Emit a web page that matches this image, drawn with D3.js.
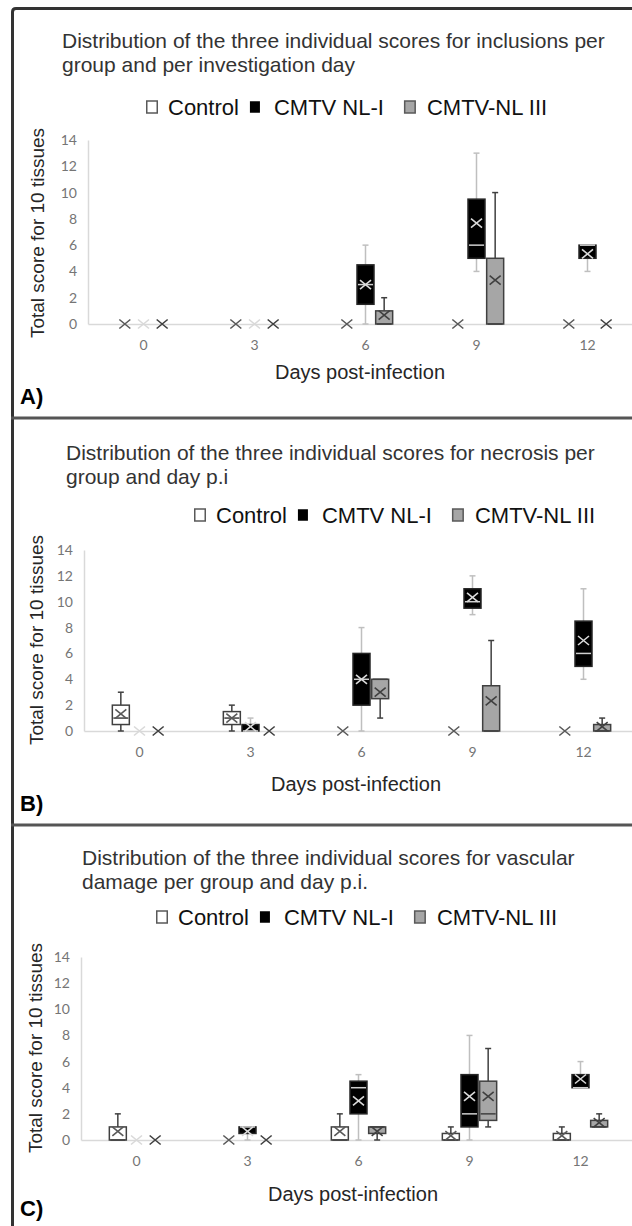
<!DOCTYPE html>
<html>
<head>
<meta charset="utf-8">
<script src="https://cdn.jsdelivr.net/npm/d3@7"></script>
<style>
  body { margin: 0; background: #fff; }
  svg { display: block; }
</style>
</head>
<body>
<div id="chart"></div>
<script>
const days = [0, 3, 6, 9, 12];
const groups = ['Control', 'CMTV NL-I', 'CMTV-NL III'];
const yTicks = [0, 2, 4, 6, 8, 10, 12, 14];

// three individual scores per group, one triple per day (0, 3, 6, 9, 12)
const inclusionControl = [[0,0,0], [0,0,0], [0,0,0], [0,0,0], [0,0,0]];
const inclusionNL1     = [[0,0,0], [0,0,0], [0,3,6], [4,6,13], [4,6,6]];
const inclusionNL3     = [[0,0,0], [0,0,0], [0,0,2], [0,0,10], [0,0,0]];

const necrosisControl  = [[0,1,3], [0,1,2], [0,0,0], [0,0,0], [0,0,0]];
const necrosisNL1      = [[0,0,0], [0,0,1], [0,4,8], [9,10,12], [4,6,11]];
const necrosisNL3      = [[0,0,0], [0,0,0], [1,4,4], [0,0,7], [0,0,1]];

const vascularControl  = [[0,0,2], [0,0,0], [0,0,2], [0,0,1], [0,0,1]];
const vascularNL1      = [[0,0,0], [0,1,1], [0,4,5], [0,2,8], [4,4,6]];
const vascularNL3      = [[0,0,0], [0,0,0], [0,1,1], [1,2,7], [1,1,2]];

const titles = [
  ['Distribution of the three individual scores for inclusions per', 'group and per investigation day'],
  ['Distribution of the three individual scores for necrosis per', 'group and day p.i'],
  ['Distribution of the three individual scores for vascular', 'damage per group and day p.i.']
];
const panelLabels = ['A)', 'B)', 'C)'];
const yTitle = 'Total score for 10 tissues';
const xTitle = 'Days post-infection';

const width = 632;
const height = 1226;

const style = {
  'Control':     { fill: '#ffffff', stroke: '#404040', whisker: '#404040', median: '#404040', mean: '#595959' },
  'CMTV NL-I':   { fill: '#000000', stroke: '#262626', whisker: '#bfbfbf', median: '#cfcfcf', mean: '#d9d9d9' },
  'CMTV-NL III': { fill: '#a6a6a6', stroke: '#404040', whisker: '#404040', median: '#404040', mean: '#404040' }
};

// layout of the three stacked panels
const panels = [
  { scores: [inclusionControl, inclusionNL1, inclusionNL3], titleX: 62, titleY: 48, legendX: 146, legendY: 107,
    left: 88, top: 140, bottom: 324, yTitleX: 44, yTitleY: 233, xTitleY: 379, labelY: 404 },
  { scores: [necrosisControl, necrosisNL1, necrosisNL3], titleX: 66, titleY: 460, legendX: 194, legendY: 515,
    left: 84, top: 550, bottom: 731, yTitleX: 43, yTitleY: 640, xTitleY: 791, labelY: 811 },
  { scores: [vascularControl, vascularNL1, vascularNL3], titleX: 82, titleY: 865, legendX: 156, legendY: 917,
    left: 81, top: 957, bottom: 1140, yTitleX: 42, yTitleY: 1048, xTitleY: 1201, labelY: 1216 }
];

const svg = d3.select('#chart')
  .append('svg')
  .attr('width', width)
  .attr('height', height)
  .style('font-family', '"Liberation Sans", Arial, sans-serif');

svg.append('rect').attr('width', width).attr('height', height).attr('fill', '#fff');

const stats = values => {
  const s = values.slice().sort(d3.ascending);
  return {
    min: s[0], max: s[s.length - 1],
    q1: d3.quantile(s, 0.25), median: d3.quantile(s, 0.5), q3: d3.quantile(s, 0.75),
    mean: d3.mean(s)
  };
};

const drawPanel = (p, i) => {
  const g = svg.append('g');

  // title
  g.append('text')
    .attr('fill', '#333')
    .style('font-size', '21px')
    .selectAll('tspan')
    .data(titles[i])
    .join('tspan')
    .attr('x', p.titleX)
    .attr('y', (d, k) => p.titleY + k * 24)
    .text(d => d);

  // legend
  const legend = g.append('g').attr('transform', `translate(${p.legendX},${p.legendY})`);
  const gaps = [[10, 11], [14, 20], [11, 0]];
  const sizes = [12, 10, 12];
  let lx = 0;
  groups.forEach((grp, k) => {
    legend.append('rect')
      .attr('x', lx + 0.75)
      .attr('y', -sizes[k] / 2)
      .attr('width', sizes[k] - 1.5)
      .attr('height', sizes[k])
      .attr('fill', style[grp].fill)
      .attr('stroke', k === 1 ? '#000' : '#595959')
      .attr('stroke-width', 1.5);
    lx += sizes[k] + gaps[k][0];
    const t = legend.append('text')
      .attr('x', lx)
      .attr('y', 8)
      .attr('fill', '#111')
      .style('font-size', '22px')
      .text(grp);
    lx += t.node().getComputedTextLength() + gaps[k][1];
  });

  const x = d3.scaleBand().domain(days).range([p.left, p.left + 555]);
  const inner = d3.scaleBand().domain(groups).range([-28, 28]);
  const y = d3.scaleLinear().domain([0, 14]).range([p.bottom, p.top]);
  const boxW = 17;

  // axes
  const yAxis = g.append('g')
    .attr('transform', `translate(${p.left},0)`)
    .call(d3.axisLeft(y).tickValues(yTicks).tickSize(0).tickPadding(11));
  const xAxis = g.append('g')
    .attr('transform', `translate(0,${p.bottom})`)
    .call(d3.axisBottom(x).tickSize(0).tickPadding(16));
  [yAxis, xAxis].forEach(a => {
    a.select('.domain').attr('stroke', '#d9d9d9').attr('stroke-width', 1.5);
    a.selectAll('text')
      .attr('fill', '#757575')
      .style('font-family', 'Lato, "Open Sans", sans-serif')
      .style('font-size', '14px');
  });

  // boxes
  groups.forEach((grp, k) => {
    const st = style[grp];
    days.forEach((day, d) => {
      const s = stats(p.scores[k][d]);
      const cx = x(day) + x.bandwidth() / 2 + inner(grp) + inner.bandwidth() / 2;
      const b = g.append('g');

      if (s.max > s.q3) {
        b.append('line').attr('x1', cx).attr('x2', cx).attr('y1', y(s.q3)).attr('y2', y(s.max))
          .attr('stroke', st.whisker).attr('stroke-width', 1.5);
        b.append('line').attr('x1', cx - 3).attr('x2', cx + 3).attr('y1', y(s.max)).attr('y2', y(s.max))
          .attr('stroke', st.whisker).attr('stroke-width', 1.5);
      }
      if (s.min < s.q1) {
        b.append('line').attr('x1', cx).attr('x2', cx).attr('y1', y(s.q1)).attr('y2', y(s.min))
          .attr('stroke', st.whisker).attr('stroke-width', 1.5);
        b.append('line').attr('x1', cx - 3).attr('x2', cx + 3).attr('y1', y(s.min)).attr('y2', y(s.min))
          .attr('stroke', st.whisker).attr('stroke-width', 1.5);
      }
      if (s.q3 > s.q1) {
        b.append('rect')
          .attr('x', cx - boxW / 2)
          .attr('y', y(s.q3))
          .attr('width', boxW)
          .attr('height', y(s.q1) - y(s.q3))
          .attr('fill', st.fill)
          .attr('stroke', st.stroke)
          .attr('stroke-width', 1.5);
        b.append('line').attr('x1', cx - boxW / 2 + 1).attr('x2', cx + boxW / 2 - 1)
          .attr('y1', y(s.median)).attr('y2', y(s.median))
          .attr('stroke', st.median).attr('stroke-width', 1.5);
      }
      // mean marker
      const my = y(s.mean);
      b.append('path')
        .attr('d', `M${cx - 5.5},${my - 4.5}L${cx + 5.5},${my + 4.5}M${cx - 5.5},${my + 4.5}L${cx + 5.5},${my - 4.5}`)
        .attr('stroke', st.mean)
        .attr('stroke-width', 1.6)
        .attr('fill', 'none');
    });
  });

  // axis titles
  g.append('text')
    .attr('transform', `translate(${p.yTitleX},${p.yTitleY}) rotate(-90)`)
    .attr('text-anchor', 'middle')
    .attr('fill', '#262626')
    .style('font-size', '19px')
    .text(yTitle);

  g.append('text')
    .attr('x', p.left + 272)
    .attr('y', p.xTitleY)
    .attr('text-anchor', 'middle')
    .attr('fill', '#262626')
    .style('font-size', '20px')
    .text(xTitle);

  g.append('text')
    .attr('x', 20)
    .attr('y', p.labelY)
    .attr('fill', '#000')
    .style('font-size', '22px')
    .style('font-weight', 'bold')
    .text(panelLabels[i]);
};

panels.forEach(drawPanel);

// frame and panel separators
svg.append('path')
  .attr('d', `M12.5,${height}V12Q12.5,8.5 16,8.5H${width}`)
  .attr('fill', 'none')
  .attr('stroke', '#333')
  .attr('stroke-width', 3);
[418, 825].forEach(yy => {
  svg.append('line')
    .attr('x1', 11).attr('x2', width)
    .attr('y1', yy).attr('y2', yy)
    .attr('stroke', '#555')
    .attr('stroke-width', 3);
});
</script>
</body>
</html>
